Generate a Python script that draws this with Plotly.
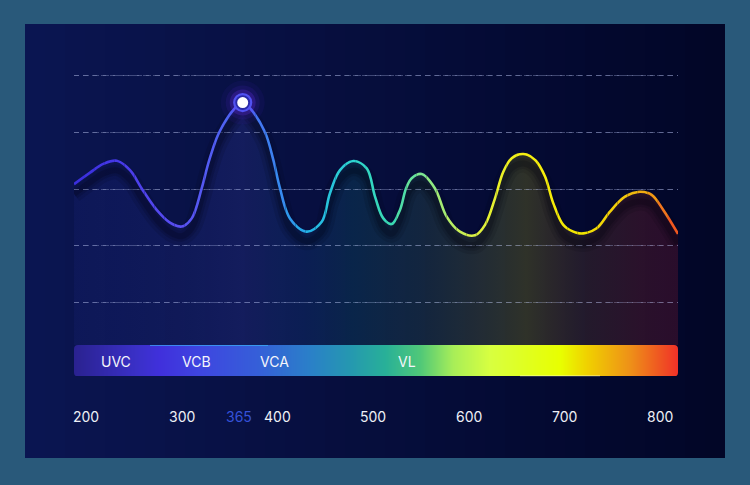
import numpy as np
import plotly.graph_objects as go

# spectrum curve: wavelength (nm) vs relative intensity
wavelength = [187.5, 204.2, 218.1, 232.1, 246.0, 258.2, 273.9, 287.8, 300.0, 310.5,
              320.9, 328.9, 339.3, 355.7, 363.8, 371.4, 387.1, 395.8, 402.8, 413.2,
              430.7, 446.4, 455.0, 465.5, 479.4, 493.4, 502.1, 510.8, 519.5, 528.2,
              534.5, 540.4, 550.9, 564.8, 577.0, 590.9, 606.6, 617.1, 627.5, 636.2,
              645.0, 657.1, 669.3, 679.8, 688.5, 698.9, 709.4, 719.8, 733.8, 747.7,
              763.4, 779.1, 791.3, 803.4, 818.8]
intensity = [61.7, 65.8, 68.9, 70.0, 66.7, 60.2, 52.6, 48.1, 46.7, 49.6,
             60.2, 70.3, 80.1, 88.6, 90.6, 88.6, 80.1, 70.3, 60.2, 49.6,
             44.9, 48.4, 58.5, 66.7, 69.9, 67.3, 57.3, 49.6, 47.6, 52.6,
             60.2, 63.8, 65.3, 60.2, 50.2, 44.9, 43.6, 47.3, 56.7, 66.1,
             70.9, 72.4, 70.3, 64.4, 54.9, 47.3, 44.9, 44.3, 46.1, 52.0,
             57.3, 59.0, 57.9, 52.6, 44.1]

tick_values = [200, 300, 365, 400, 500, 600, 700, 800]
highlight_tick = 365
band_names = ["UVC", "VCB", "VCA", "VL"]
band_centers = [231, 316, 397, 536]
grid_values = [20, 40, 60, 80, 100]

# colour stops along the wavelength axis
line_nm = [187.5, 230, 298, 364, 400, 430, 479, 520, 552, 601, 656, 716, 760, 790, 805, 818.8]
line_colors = ["#3a2edc", "#4638e8", "#5a50f2", "#4a6af2", "#3a86f0", "#22b0e8", "#2ed6d0",
               "#3ad8b0", "#80e890", "#d8f048", "#f6f012", "#f2e600", "#f2c80c", "#f0a012",
               "#f07020", "#f04a1e"]
bar_nm = [187.5, 253.3, 277.3, 319.2, 381.9, 434.1, 475.9, 512.5, 549.1, 583.6, 622.3,
          695.5, 723.7, 768.6, 818.8]
bar_colors = ["#2a2290", "#3a30c8", "#4030dc", "#3e46e0", "#3560d8", "#2a80c8", "#2598b0",
              "#28b098", "#50c878", "#a8ee58", "#d8ff40", "#e8ff00", "#f0d000", "#ee9018",
              "#f03028"]
fill_nm = [187.5, 300, 364, 430, 479, 550, 620, 660, 720, 780, 818.8]
fill_colors = ["rgba(60,70,220,0.07)", "rgba(80,90,235,0.10)", "rgba(90,100,240,0.14)",
               "rgba(40,140,220,0.12)", "rgba(30,190,160,0.13)", "rgba(110,200,100,0.13)",
               "rgba(200,220,40,0.16)", "rgba(230,220,0,0.19)", "rgba(200,120,30,0.16)",
               "rgba(220,60,40,0.18)", "rgba(220,40,50,0.18)"]

W, H = 750, 485
X_LO, X_HI = 187.46, 818.8
PX_L, PX_R = 74, 678
BAR_T, BAR_B = 345, 376.5
FONT = "Inter"


def hex_rgb(h):
    h = h.lstrip("#")
    return np.array([int(h[i:i + 2], 16) for i in (0, 2, 4)], dtype=float)


def color_at(nm, stops, colors):
    rgb = [np.interp(nm, stops, [hex_rgb(c)[j] for c in colors]) for j in range(3)]
    return "rgb(%d,%d,%d)" % tuple(int(round(v)) for v in rgb)


def scale_from(stops, colors):
    lo, hi = stops[0], stops[-1]
    return [[(s - lo) / (hi - lo), c] for s, c in zip(stops, colors)]


def px_(x):
    return x / W


def py(y):
    return 1 - y / H


fig = go.Figure()

# area under the curve
fig.add_trace(go.Scatter(
    x=wavelength, y=intensity, mode="lines", fill="tozeroy",
    line=dict(width=0, shape="spline"),
    fillgradient=dict(type="horizontal", colorscale=scale_from(fill_nm, fill_colors)),
    hoverinfo="skip", showlegend=False))

# soft drop shadow (same curve on a slightly shifted axis)
for w, a in [(18, 0.10), (11, 0.14), (6, 0.18)]:
    fig.add_trace(go.Scatter(
        x=wavelength, y=intensity, xaxis="x", yaxis="y2", mode="lines",
        line=dict(width=w, color=f"rgba(0,0,12,{a})", shape="spline"),
        hoverinfo="skip", showlegend=False))

# gradient line: the same spline clipped into narrow vertical strips
n_bands = 60
d_lo, d_hi = px_(PX_L), px_(PX_R)
band_axes = {}
for k in range(n_bands):
    a, b = k / n_bands, (k + 1) / n_bands
    band_axes[f"xaxis{k + 2}"] = dict(
        domain=[d_lo + (d_hi - d_lo) * a, d_lo + (d_hi - d_lo) * b],
        range=[X_LO + (X_HI - X_LO) * a, X_LO + (X_HI - X_LO) * b],
        visible=False, anchor="y", fixedrange=True)
    mid = X_LO + (X_HI - X_LO) * (k + 0.5) / n_bands
    fig.add_trace(go.Scatter(
        x=wavelength, y=intensity, xaxis=f"x{k + 2}", yaxis="y", mode="lines",
        line=dict(width=2.6, color=color_at(mid, line_nm, line_colors),
                  shape="spline", simplify=False),
        hoverinfo="skip", showlegend=False))

# spectrum bar
fig.add_trace(go.Heatmap(
    x=[bar_nm[0], bar_nm[-1]], y=[0, 1], z=[[0, 1], [0, 1]],
    colorscale=scale_from(bar_nm, bar_colors), zsmooth="best", showscale=False,
    xaxis="x", yaxis="y3", hoverinfo="skip"))

# panel background (horizontal gradient in strips)
shapes = []
left_c, right_c = hex_rgb("#0b1652"), hex_rgb("#020627")


def panel_at(x):
    c = left_c + (right_c - left_c) * (x - 25) / 700
    return "rgb(%d,%d,%d)" % tuple(int(v) for v in c)


n_strips = 35
for i in range(n_strips):
    x0 = 25 + 20 * i
    shapes.append(dict(type="rect", xref="paper", yref="paper", layer="below",
                       x0=px_(x0), x1=px_(min(x0 + 21, 725)), y0=py(458), y1=py(24),
                       fillcolor=panel_at(x0 + 10), line_width=0))

# rounded bar corners: mask the four corners with the panel colour
r = 4
for cx, cy, sx, sy in [(PX_L, BAR_T, 1, 1), (PX_L, BAR_B, 1, -1),
                       (PX_R, BAR_T, -1, 1), (PX_R, BAR_B, -1, -1)]:
    path = "M %f,%f L %f,%f Q %f,%f %f,%f Z" % (
        px_(cx), py(cy), px_(cx + sx * r), py(cy),
        px_(cx), py(cy), px_(cx), py(cy + sy * r))
    shapes.append(dict(type="path", xref="paper", yref="paper", layer="above", path=path,
                       fillcolor=panel_at(cx), line_width=0))

# faint highlights on the bar edges
shapes.append(dict(type="line", xref="paper", yref="paper", layer="above",
                   x0=px_(150), x1=px_(268), y0=py(BAR_T + 0.5), y1=py(BAR_T + 0.5),
                   line=dict(color="rgba(60,200,255,0.55)", width=1)))
shapes.append(dict(type="line", xref="paper", yref="paper", layer="above",
                   x0=px_(520), x1=px_(600), y0=py(BAR_B - 0.7), y1=py(BAR_B - 0.7),
                   line=dict(color="rgba(255,255,200,0.55)", width=1)))

# peak marker with glow
i_peak = int(np.argmax(intensity))
for rad, fill, line_c, lw in [(22, "rgba(110,40,255,0.06)", None, 0),
                              (17, "rgba(110,40,255,0.10)", None, 0),
                              (13, "rgba(120,50,255,0.22)", None, 0),
                              (8.5, "#2a2aa8", "#5252f2", 2.2),
                              (5.5, "#ffffff", None, 0)]:
    shapes.append(dict(type="circle", xref="x", yref="y", layer="above",
                       xsizemode="pixel", ysizemode="pixel",
                       xanchor=wavelength[i_peak], yanchor=intensity[i_peak],
                       x0=-rad, x1=rad, y0=-rad, y1=rad, fillcolor=fill,
                       line=dict(color=line_c or "rgba(0,0,0,0)", width=lw)))

annotations = []
for name, c in zip(band_names, band_centers):
    annotations.append(dict(x=c, y=py(361), xref="x", yref="paper", text=name, showarrow=False,
                            yanchor="middle", xanchor="center",
                            font=dict(family=FONT, size=14, color="#f4f6fb")))
for t in tick_values:
    hi = t == highlight_tick
    annotations.append(dict(x=t, y=py(416), xref="x", yref="paper", text=str(t), showarrow=False,
                            yanchor="middle", xanchor="center", xshift=-5 if hi else 0,
                            font=dict(family=FONT, size=14, color="#3552d8" if hi else "#eef0f6")))

y_lo, y_hi = 4.78, 105.66
shadow = 3.4
fig.update_layout(
    width=W, height=H, margin=dict(l=0, r=0, t=0, b=0),
    paper_bgcolor="#29597a", plot_bgcolor="rgba(0,0,0,0)",
    showlegend=False, shapes=shapes, annotations=annotations,
    xaxis=dict(domain=[d_lo, d_hi], range=[X_LO, X_HI], visible=False, fixedrange=True),
    yaxis=dict(domain=[py(BAR_T), py(60)], range=[y_lo, y_hi], tickvals=grid_values,
               showticklabels=False, showgrid=True, gridcolor="rgba(150,160,205,0.40)",
               griddash="5px,4px", gridwidth=1, zeroline=False, showline=False,
               ticks="", fixedrange=True),
    yaxis2=dict(overlaying="y", range=[y_lo + shadow, y_hi + shadow], visible=False,
                fixedrange=True),
    yaxis3=dict(domain=[py(BAR_B), py(BAR_T)], range=[0, 1], visible=False, anchor="x",
                fixedrange=True),
    **band_axes,
)

fig.write_html("out.html", config={"displayModeBar": False},
               post_script="document.body.style.margin='0px';")
